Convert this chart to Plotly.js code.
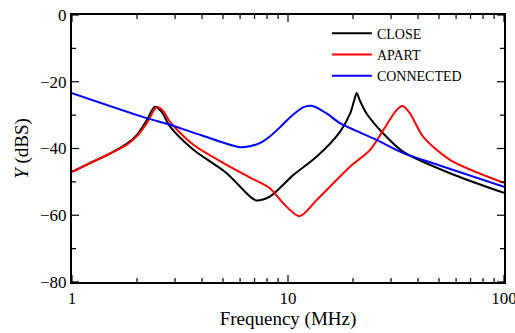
<!DOCTYPE html>
<html>
<head>
<meta charset="utf-8">
<script src="https://cdn.plot.ly/plotly-3.0.1.min.js"></script>
<style>html,body{margin:0;padding:0;background:#fff;}#chart{width:515px;height:333px;}</style>
</head>
<body>
<div id="chart"></div>
<script>
// Frequencies (MHz) and responses (dBS)
const freqClose = [1, 1.256, 1.5, 1.79, 2.0, 2.22, 2.42, 2.6, 2.84, 3.65, 5.2, 6.67, 7.16, 8.24, 10.6, 13.6, 17.4, 19.4, 20.2, 20.8, 21.5, 23.1, 27.6, 34.2, 56.2, 100];
const closeY    = [-47, -43.9, -41.5, -38.6, -35.9, -31.5, -27.5, -29.0, -33.4, -40.4, -47.4, -54.4, -55.6, -54.4, -47.9, -42.4, -35.0, -29.5, -25.8, -23.4, -25.6, -29.5, -35.5, -41.0, -47.4, -53.3];

const freqApart = [1, 1.256, 1.5, 1.79, 2.0, 2.22, 2.47, 2.65, 2.84, 3.65, 5.2, 6.67, 8.24, 9.5, 11.3, 13.6, 19.4, 24, 27.6, 31.8, 33.9, 36.7, 42.3, 56.2, 100];
const apartY    = [-47, -43.9, -41.5, -38.9, -36.3, -32.4, -27.6, -28.8, -32.0, -38.9, -44.9, -48.7, -51.9, -56.4, -60.3, -55.4, -45.4, -40.4, -34.5, -28.5, -27.3, -29.5, -36.5, -43.4, -50.3];

const freqConn  = [1, 2.22, 2.84, 4.0, 6.0, 6.67, 7.4, 8.24, 9.2, 10.2, 11.8, 12.9, 15.1, 17.4, 25.7, 34.2, 50, 100];
const connY     = [-23.4, -30.9, -32.9, -36.1, -39.6, -39.3, -38.4, -36.4, -33.6, -30.7, -27.6, -27.2, -29.5, -32.4, -37.4, -41.4, -45.0, -51.5];

const seriesNames = ['CLOSE', 'APART', 'CONNECTED'];
const seriesColors = ['#000000', '#ff0000', '#0000ff'];
const yTickVals = [0, -20, -40, -60, -80];
const yMinorTickVals = [-10, -30, -50, -70];
const xTickVals = [1, 10, 100];
const xMinorTickVals = [2, 3, 4, 5, 6, 7, 8, 9, 20, 30, 40, 50, 60, 70, 80, 90];

const font = 'Liberation Serif';
const xs = [freqClose, freqApart, freqConn];
const ys = [closeY, apartY, connY];
const traces = xs.map((x, i) => ({
  x: x, y: ys[i], name: seriesNames[i], type: 'scatter', mode: 'lines',
  line: {color: seriesColors[i], width: 2, shape: 'spline', smoothing: 0.8}
}));

// Tick marks drawn as pixel-sized shapes anchored at axis values
const tickLine = {color: '#000', width: 1.2};
const shapes = [];
function xTick(v, len) {
  shapes.push({type: 'line', xref: 'x', yref: 'paper', ysizemode: 'pixel', yanchor: 0, x0: v, x1: v, y0: 0, y1: len, line: tickLine});
  shapes.push({type: 'line', xref: 'x', yref: 'paper', ysizemode: 'pixel', yanchor: 1, x0: v, x1: v, y0: 0, y1: -len, line: tickLine});
}
function yTick(v, len) {
  shapes.push({type: 'line', xref: 'paper', yref: 'y', xsizemode: 'pixel', xanchor: 0, y0: v, y1: v, x0: 0, x1: len, line: tickLine});
  shapes.push({type: 'line', xref: 'paper', yref: 'y', xsizemode: 'pixel', xanchor: 1, y0: v, y1: v, x0: 0, x1: -len, line: tickLine});
}
xTickVals.forEach(v => xTick(v, 7));
xMinorTickVals.forEach(v => xTick(v, 4));
yTickVals.forEach(v => yTick(v, 7));
yMinorTickVals.forEach(v => yTick(v, 4));

const layout = {
  width: 515, height: 333,
  margin: {l: 72, r: 11, t: 15, b: 51},
  paper_bgcolor: '#fff', plot_bgcolor: '#fff',
  font: {family: font, size: 16, color: '#000'},
  showlegend: true,
  legend: {x: 0.59, y: 0.99, xanchor: 'left', yanchor: 'top', bgcolor: 'rgba(0,0,0,0)',
           font: {family: font, size: 14, color: '#000'}, tracegroupgap: 0, itemwidth: 40},
  shapes: shapes,
  xaxis: {
    type: 'log', range: [0, 2], tickmode: 'array', tickvals: xTickVals, ticktext: xTickVals.map(String),
    ticklabeloverflow: 'allow',
    ticks: '', showline: true, linewidth: 2, linecolor: '#000', mirror: true,
    showgrid: false, zeroline: false,
    tickfont: {family: font, size: 17, color: '#000'},
    title: {text: 'Frequency (MHz)', font: {family: font, size: 19, color: '#000'}, standoff: 4}
  },
  yaxis: {
    range: [-80, 0], tickmode: 'array', tickvals: yTickVals,
    ticks: '', showline: true, linewidth: 2, linecolor: '#000', mirror: true,
    showgrid: false, zeroline: false,
    tickfont: {family: font, size: 17, color: '#000'},
    title: {text: '<i>Y</i> (dBS)', font: {family: font, size: 19, color: '#000'}, standoff: 6}
  }
};

Plotly.newPlot('chart', traces, layout, {displayModeBar: false, staticPlot: true});
</script>
</body>
</html>
